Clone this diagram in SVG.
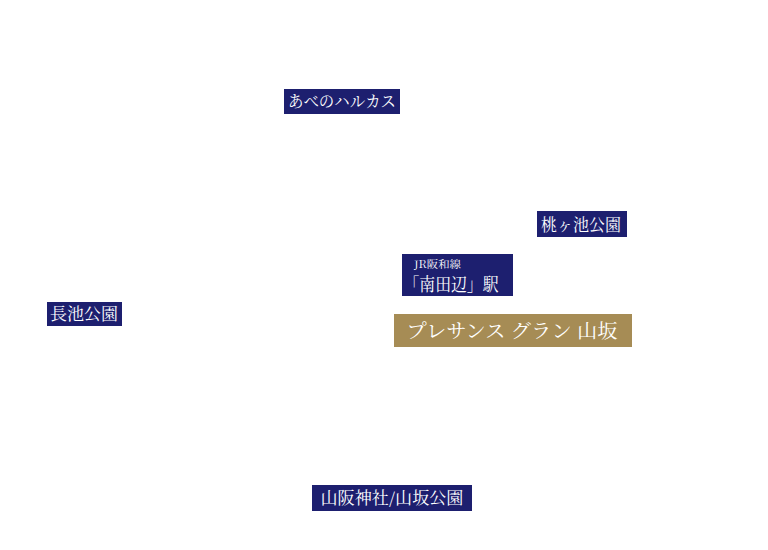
<svg xmlns="http://www.w3.org/2000/svg" width="768" height="550" viewBox="0 0 768 550">
<style>
.navy{fill:#1d1f6f}
.gold{fill:#a68c55}
.t{fill:#ffffff;font-family:"Noto Serif CJK JP","Noto Sans CJK JP",serif;text-anchor:middle}
</style>
<rect width="768" height="550" fill="#ffffff"/>
<g id="connectors"></g>
<g id="abeno-harukas">
<rect class="navy" x="284" y="89" width="116" height="25"/>
<text class="t" x="342" y="107" font-size="15.5" textLength="108" lengthAdjust="spacingAndGlyphs">あべのハルカス</text>
</g>
<g id="momogaike">
<rect class="navy" x="537" y="211" width="90" height="26"/>
<text class="t" x="581" y="231" font-size="17" textLength="80" lengthAdjust="spacingAndGlyphs">桃ヶ池公園</text>
</g>
<g id="minami-tanabe">
<rect class="navy" x="402" y="254" width="111" height="42"/>
<text class="t" x="437.5" y="268" font-size="10.5" textLength="47" lengthAdjust="spacingAndGlyphs">JR阪和線</text>
<text class="t" x="451" y="291" font-size="18" textLength="95" lengthAdjust="spacingAndGlyphs">「南田辺」駅</text>
</g>
<g id="nagaike">
<rect class="navy" x="47" y="302" width="75" height="24"/>
<text class="t" x="84" y="320" font-size="16.5" textLength="68" lengthAdjust="spacingAndGlyphs">長池公園</text>
</g>
<g id="presance">
<rect class="gold" x="394" y="314" width="238" height="33"/>
<text class="t" x="512" y="338" font-size="19" textLength="211" lengthAdjust="spacingAndGlyphs">プレサンス グラン 山坂</text>
</g>
<g id="yamasaka">
<rect class="navy" x="312" y="485" width="160" height="26"/>
<text class="t" x="392" y="504" font-size="16.5" textLength="143" lengthAdjust="spacingAndGlyphs">山阪神社/山坂公園</text>
</g>
</svg>
